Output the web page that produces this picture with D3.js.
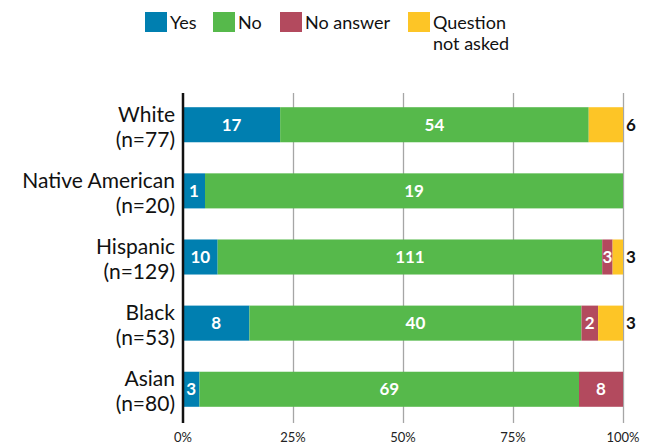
<!DOCTYPE html>
<html>
<head>
<meta charset="utf-8">
<script src="https://cdn.jsdelivr.net/npm/d3@7"></script>
<style>
  body { margin: 0; background: #fff; }
  text { font-family: Lato, "Open Sans", sans-serif; }
</style>
</head>
<body>
<div id="chart"></div>
<script>
// data
const groups = ["White", "Native American", "Hispanic", "Black", "Asian"];
const sizes = [77, 20, 129, 53, 80];
const keys = ["Yes", "No", "No answer", "Question not asked"];
const yes = [17, 1, 10, 8, 3];
const no = [54, 19, 111, 40, 69];
const noAnswer = [0, 0, 3, 2, 8];
const notAsked = [6, 0, 3, 3, 0];
const ticks = [0, 0.25, 0.5, 0.75, 1];
const colors = ["#007fb0", "#56b94b", "#b34a5e", "#fdc526"];

const width = 655, height = 447;
const margin = {top: 93, right: 32, bottom: 24, left: 183};

const svg = d3.select("#chart")
    .append("svg")
    .attr("width", width)
    .attr("height", height);

// build rows and stack as share of each row
const rows = groups.map((g, i) => {
    const r = {group: g, n: sizes[i]};
    r["Yes"] = yes[i];
    r["No"] = no[i];
    r["No answer"] = noAnswer[i];
    r["Question not asked"] = notAsked[i];
    return r;
});
const series = d3.stack()
    .keys(keys)
    .offset(d3.stackOffsetExpand)(rows);

const x = d3.scaleLinear()
    .domain([0, 1])
    .range([margin.left, width - margin.right]);

const y = d3.scaleBand()
    .domain(groups)
    .range([margin.top - 1, height - margin.bottom - 1])
    .paddingInner(0.47)
    .paddingOuter(0.23);

const color = d3.scaleOrdinal().domain(keys).range(colors);

// gridlines
svg.append("g")
    .selectAll("line")
    .data(ticks.slice(1))
    .join("line")
    .attr("x1", d => x(d) + 0.5)
    .attr("x2", d => x(d) + 0.5)
    .attr("y1", margin.top)
    .attr("y2", height - margin.bottom)
    .attr("stroke", "#a6a6a6")
    .attr("stroke-width", 1.3);

// tick labels
svg.append("g")
    .selectAll("text")
    .data(ticks)
    .join("text")
    .attr("x", d => x(d))
    .attr("y", 442)
    .attr("text-anchor", "middle")
    .style("font-size", "13px")
    .attr("fill", "#222")
    .text(d3.format(".0%"));

// bars
const layer = svg.append("g")
    .selectAll("g")
    .data(series)
    .join("g")
    .attr("fill", d => color(d.key));

layer.selectAll("rect")
    .data(d => d.map(v => ({v: v, key: d.key})))
    .join("rect")
    .attr("x", d => x(d.v[0]))
    .attr("width", d => x(d.v[1]) - x(d.v[0]))
    .attr("y", d => y(d.v.data.group))
    .attr("height", y.bandwidth());

// value labels
layer.selectAll("text")
    .data(d => d.map(v => ({v: v, key: d.key})).filter(d => d.v.data[d.key] > 0))
    .join("text")
    .attr("x", d => d.key === "Question not asked" ? x(1) + 3 : (x(d.v[0]) + x(d.v[1])) / 2)
    .attr("y", d => y(d.v.data.group) + y.bandwidth() / 2 + 6)
    .attr("text-anchor", d => d.key === "Question not asked" ? "start" : "middle")
    .attr("fill", d => d.key === "Question not asked" ? "#111" : "#fff")
    .style("font-size", "17px")
    .style("font-weight", "bold")
    .text(d => d.v.data[d.key]);

// left axis line
svg.append("line")
    .attr("x1", margin.left)
    .attr("x2", margin.left)
    .attr("y1", margin.top)
    .attr("y2", height - margin.bottom)
    .attr("stroke", "#111")
    .attr("stroke-width", 2.5);

// category labels
const cat = svg.append("g")
    .selectAll("text")
    .data(rows)
    .join("text")
    .attr("text-anchor", "end")
    .attr("fill", "#111")
    .style("font-size", "21px")
    .attr("y", d => y(d.group) + y.bandwidth() / 2);
cat.append("tspan")
    .attr("x", 175)
    .attr("dy", -3)
    .text(d => d.group);
cat.append("tspan")
    .attr("x", 175)
    .attr("dy", 25)
    .text(d => "(n=" + d.n + ")");

// legend
const legendX = [145, 213, 280, 408];
const legend = svg.append("g")
    .selectAll("g")
    .data(keys)
    .join("g")
    .attr("transform", (d, i) => `translate(${legendX[i]},12)`);
legend.append("rect")
    .attr("width", 22)
    .attr("height", 20)
    .attr("fill", d => color(d));
legend.append("text")
    .attr("x", 25)
    .attr("y", 17)
    .attr("fill", "#111")
    .style("font-size", "18px")
    .each(function(d) {
        const words = d === "Question not asked" ? ["Question", "not asked"] : [d];
        d3.select(this).selectAll("tspan")
            .data(words)
            .join("tspan")
            .attr("x", 25)
            .attr("dy", (w, j) => j === 0 ? 0 : 21)
            .text(w => w);
    });
</script>
</body>
</html>
